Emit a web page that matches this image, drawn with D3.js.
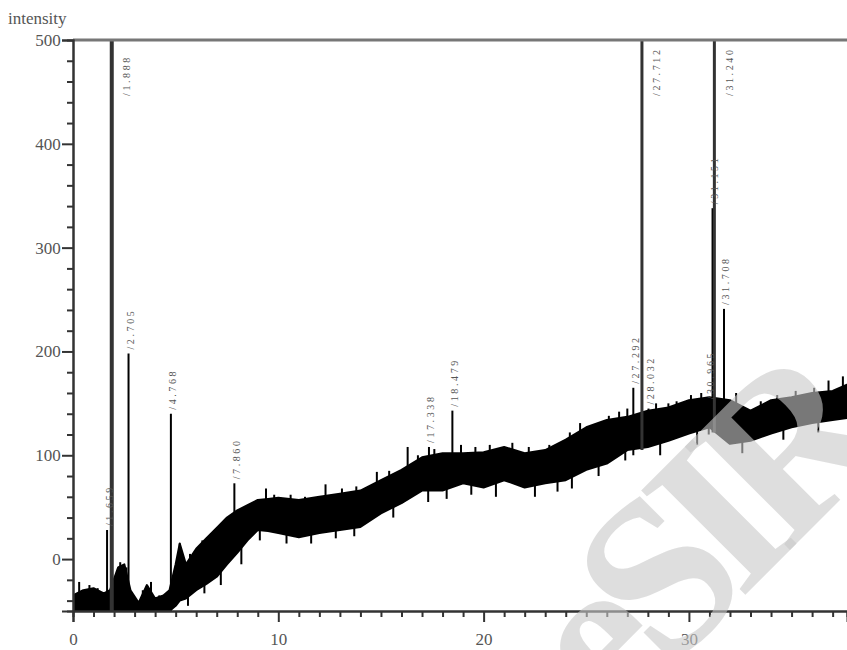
<!DOCTYPE html>
<html>
<head>
<meta charset="utf-8">
<script src="https://cdn.jsdelivr.net/npm/d3@7"></script>
<style>
  html, body { margin: 0; padding: 0; background: #fff; }
  svg { display: block; }
</style>
</head>
<body>
<svg id="chart" width="847" height="650"></svg>
<script>
// ---------- data ----------
const xTickMajor = [0, 10, 20, 30];
const yTickMajor = [0, 100, 200, 300, 400, 500];
const xMinorStep = 1;
const yMinorStep = 20;
const yAxisTitle = "intensity";

// noisy baseline envelope: retention time, lower edge, upper edge
const bandTime  = [0, 0.5, 1, 1.5, 1.8, 2.2, 2.5, 2.8, 3.2, 3.6, 4.0, 4.4, 4.7, 5.0, 5.2, 5.5, 6.0, 6.5, 7.0, 7.5, 8.0, 8.5, 9.0, 9.5, 10, 11, 12, 13, 14, 15, 16, 17, 18, 19, 20, 21, 22, 23, 24, 25, 26, 27, 28, 29, 30, 31, 32, 33, 34, 35, 36, 37, 37.7];
const bandLow   = [-50, -50, -50, -50, -50, -50, -50, -50, -50, -50, -50, -50, -50, -45, -40, -38, -30, -24, -17, -5, 6, 18, 28, 27, 25, 21, 25, 28, 31, 44, 54, 66, 66, 73, 69, 76, 69, 73, 76, 86, 92, 105, 108, 114, 121, 127, 111, 114, 121, 127, 131, 134, 136];
const bandHigh  = [-35, -30, -28, -33, -30, -8, -5, -30, -42, -25, -38, -35, -30, -5, 15, -5, 10, 20, 30, 40, 47, 52, 57, 58, 59, 57, 60, 63, 66, 76, 86, 98, 102, 102, 103, 108, 102, 105, 115, 127, 134, 137, 143, 146, 153, 156, 153, 143, 153, 156, 160, 162, 168];

// spikes sticking out above the noise band
const upSpikeTime  = [0.3, 0.8, 1.2, 2.3, 2.6, 3.4, 3.8, 4.2, 5.2, 5.7, 6.3, 6.8, 7.3, 7.6, 8.3, 8.8, 9.4, 9.8, 10.6, 11.3, 12.3, 13.1, 13.8, 14.8, 15.4, 16.3, 16.8, 17.6, 18.9, 19.6, 20.3, 21.4, 22.2, 23.2, 24.2, 24.7, 25.4, 26.1, 26.6, 27.0, 28.4, 29.0, 29.4, 30.1, 30.6, 32.3, 33.5, 34.3, 35.2, 36.1, 36.8, 37.5];
const upSpikeValue = [-22, -25, -28, -3, -8, -30, -22, -35, 15, 5, 18, 25, 35, 38, 50, 55, 68, 62, 62, 60, 72, 68, 70, 84, 85, 108, 100, 106, 110, 108, 110, 112, 108, 110, 122, 131, 130, 138, 142, 145, 150, 150, 152, 158, 160, 160, 152, 158, 162, 165, 172, 176];
// spikes sticking out below the noise band
const downSpikeTime  = [5.6, 6.4, 7.2, 8.2, 9.1, 10.4, 11.6, 12.8, 13.7, 15.6, 17.3, 18.2, 19.4, 20.6, 22.5, 23.6, 24.3, 25.6, 26.9, 28.6, 30.4, 32.6, 34.6, 36.3];
const downSpikeValue = [-45, -33, -25, -5, 18, 15, 15, 20, 22, 40, 55, 58, 62, 60, 60, 65, 68, 80, 95, 100, 110, 102, 115, 122];

// labelled peaks
const peakTime   = [1.659, 1.888, 2.705, 4.768, 7.860, 17.338, 18.479, 27.292, 27.712, 28.032, 30.965, 31.151, 31.240, 31.708];
const peakBase   = [-50, -50, -50, -50, 5, 66, 70, 100, 105, 108, 120, 122, 122, 120];
const peakHeight = [28, 2000, 198, 140, 73, 108, 143, 165, 2000, 145, 150, 338, 2000, 241];
const peakLabel  = ["/1.659", "/1.888", "/2.705", "/4.768", "/7.860", "/17.338", "/18.479", "/27.292", "/27.712", "/28.032", "/30.965", "/31.151", "/31.240", "/31.708"];

// ---------- drawing ----------
const svg = d3.select("#chart");
const mLeft = 73, mRight = 847, mTop = 40, mBottom = 611;
const xMax = 37.7, yMin = -50, yMax = 500;

const x = d3.scaleLinear().domain([0, xMax]).range([mLeft, mRight]);
const y = d3.scaleLinear().domain([yMin, yMax]).range([mBottom, mTop]);

svg.append("defs").append("clipPath").attr("id", "plotclip")
  .append("rect").attr("x", mLeft).attr("y", mTop).attr("width", mRight - mLeft).attr("height", mBottom - mTop);

const plot = svg.append("g").attr("clip-path", "url(#plotclip)");

// baseline noise band
const band = bandTime.map((t, i) => ({ t, lo: bandLow[i], hi: bandHigh[i] }));
plot.append("path")
  .datum(band)
  .attr("d", d3.area().x(d => x(d.t)).y0(d => y(d.lo)).y1(d => y(d.hi)).curve(d3.curveLinear))
  .attr("fill", "#000").attr("stroke", "#000").attr("stroke-width", 2).attr("stroke-linejoin", "round");

// spikes (short strokes from inside the band outwards)
plot.selectAll("line.upspike")
  .data(upSpikeTime.map((t, i) => ({ t, v: upSpikeValue[i] })))
  .join("line").attr("class", "upspike")
  .attr("x1", d => x(d.t)).attr("x2", d => x(d.t))
  .attr("y1", d => y(d.v - 30)).attr("y2", d => y(d.v))
  .attr("stroke", "#000").attr("stroke-width", 2);
plot.selectAll("line.downspike")
  .data(downSpikeTime.map((t, i) => ({ t, v: downSpikeValue[i] })))
  .join("line").attr("class", "downspike")
  .attr("x1", d => x(d.t)).attr("x2", d => x(d.t))
  .attr("y1", d => y(d.v + 30)).attr("y2", d => y(d.v))
  .attr("stroke", "#000").attr("stroke-width", 2);

// peaks
const peaks = peakTime.map((t, i) => ({ t, base: peakBase[i], h: peakHeight[i], label: peakLabel[i], off: peakHeight[i] > yMax }));
plot.selectAll("line.peak")
  .data(peaks)
  .join("line").attr("class", "peak")
  .attr("x1", d => x(d.t)).attr("x2", d => x(d.t))
  .attr("y1", d => y(d.base)).attr("y2", d => y(Math.min(d.h, yMax + 10)))
  .attr("stroke", d => d.off ? "#333" : "#000")
  .attr("stroke-width", d => d.t < 2 && d.off ? 4 : (d.off ? 3 : 2));

// peak labels (rotated, reading upward)
svg.selectAll("text.plabel")
  .data(peaks)
  .join("text").attr("class", "plabel")
  .attr("transform", d => {
    const px = d.off ? x(d.t) + 15 : x(d.t) + 2;
    const py = d.off ? mTop + 56 : y(d.h) - 4;
    return `translate(${px},${py}) rotate(-90)`;
  })
  .attr("dy", "0.35em")
  .attr("text-anchor", "start")
  .attr("font-family", "Liberation Serif, serif")
  .attr("font-size", 10)
  .attr("letter-spacing", 2.6)
  .attr("fill", "#555")
  .text(d => d.label);

// top frame line
svg.append("line")
  .attr("x1", mLeft).attr("x2", mRight).attr("y1", y(yMax)).attr("y2", y(yMax))
  .attr("stroke", "#777").attr("stroke-width", 3);

// axes
const xMinor = d3.range(0, xMax + 0.001, xMinorStep).filter(v => !xTickMajor.includes(v));
const yMinor = d3.range(yMin + 10, yMax, yMinorStep).filter(v => !yTickMajor.includes(v));

const xAxisG = svg.append("g").attr("transform", `translate(0,${mBottom})`);
xAxisG.append("g").call(d3.axisBottom(x).tickValues(xMinor).tickSize(6).tickFormat(""));
xAxisG.append("g").call(d3.axisBottom(x).tickValues(xTickMajor).tickSize(11).tickFormat(d3.format("d")));

const yAxisG = svg.append("g").attr("transform", `translate(${mLeft},0)`);
yAxisG.append("g").call(d3.axisLeft(y).tickValues(yMinor).tickSize(6).tickFormat(""));
yAxisG.append("g").call(d3.axisLeft(y).tickValues(yTickMajor).tickSize(11).tickFormat(d3.format("d")));

svg.selectAll(".domain").attr("stroke", "#333").attr("stroke-width", 2);
svg.selectAll(".tick line").attr("stroke", "#333").attr("stroke-width", 2);
svg.selectAll(".tick text")
  .attr("font-family", "Liberation Serif, serif")
  .attr("font-size", 17)
  .attr("fill", "#555");
xAxisG.selectAll(".tick text").attr("dy", "1.2em");
yAxisG.selectAll(".tick text").attr("dx", "0.1em");

// axis title
svg.append("text")
  .attr("x", 8).attr("y", 24)
  .attr("font-family", "Liberation Serif, serif")
  .attr("font-size", 17)
  .attr("fill", "#555")
  .text(yAxisTitle);

// watermark
svg.append("text")
  .attr("transform", "translate(612,728) rotate(-45)")
  .attr("font-family", "Liberation Serif, serif")
  .attr("font-weight", "bold")
  .attr("font-size", 225)
  .attr("letter-spacing", -22)
  .attr("fill", "rgb(200,200,200)")
  .attr("fill-opacity", 0.6)
  .text("eSIR");
</script>
</body>
</html>
